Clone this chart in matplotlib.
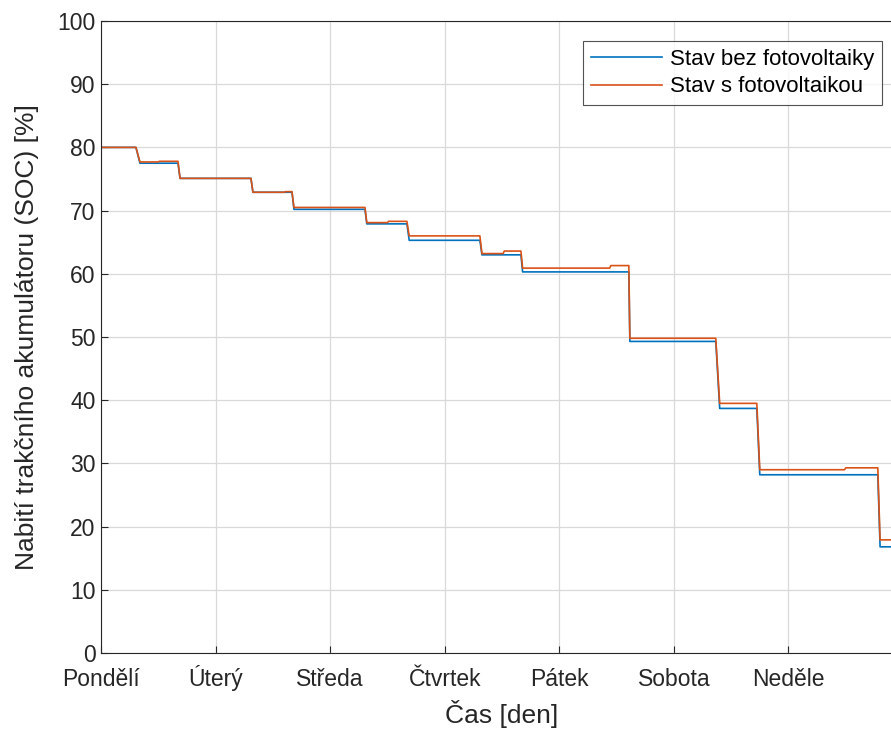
import matplotlib
matplotlib.use("Agg")
import matplotlib.pyplot as plt

plt.rcParams['font.family'] = ['Liberation Sans', 'DejaVu Sans']

# Time breakpoints [day] and SOC [%]
t_bez = [0.0, 0.305, 0.34, 0.672, 0.69, 1.309, 1.326, 1.667, 1.684, 2.304, 2.32,
         2.67, 2.69, 3.307, 3.325, 3.665, 3.68, 4.607, 4.616, 5.366, 5.40,
         5.724, 5.75, 6.78, 6.80, 7.0]
soc_bez = [80.0, 80.0, 77.5, 77.5, 75.1, 75.1, 72.9, 72.9, 70.2, 70.2, 67.9,
           67.9, 65.3, 65.3, 63.0, 63.0, 60.3, 60.3, 49.3, 49.3, 38.7,
           38.7, 28.2, 28.2, 16.8, 16.8]

t_pv = [0.0, 0.305, 0.34, 0.50, 0.51, 0.672, 0.69, 1.309, 1.326, 1.60, 1.61, 1.667, 1.684,
        2.304, 2.32, 2.50, 2.51, 2.67, 2.69, 3.307, 3.325, 3.51, 3.52, 3.665, 3.68,
        4.44, 4.45, 4.607, 4.616, 5.366, 5.40, 5.724, 5.75, 6.49, 6.50, 6.78, 6.80, 7.0]
soc_pv = [80.0, 80.0, 77.7, 77.7, 77.8, 77.8, 75.1, 75.1, 72.9, 72.9, 73.0, 73.0, 70.5,
          70.5, 68.1, 68.1, 68.3, 68.3, 66.0, 66.0, 63.2, 63.2, 63.6, 63.6, 60.9,
          60.9, 61.3, 61.3, 49.8, 49.8, 39.5, 39.5, 29.0, 29.0, 29.3, 29.3, 17.9, 17.9]

day_ticks = [0, 1, 2, 3, 4, 5, 6]
day_labels = ['Pondělí', 'Úterý', 'Středa', 'Čtvrtek', 'Pátek', 'Sobota', 'Neděle']
y_ticks = list(range(0, 101, 10))

fig = plt.figure(figsize=(8.91, 7.31), dpi=100)
ax = fig.add_axes([101/891, 1-653/731, (903-101)/891, (653-21)/731])

ax.plot(t_bez, soc_bez, color='#0072BD', lw=1.2, label='Stav bez fotovoltaiky')
ax.plot(t_pv, soc_pv, color='#D95319', lw=1.2, label='Stav s fotovoltaikou')

ax.set_xlim(0, 7)
ax.set_ylim(0, 100)
ax.set_xticks(day_ticks)
ax.set_xticklabels(day_labels)
ax.set_yticks(y_ticks)
ax.grid(True, color='#d9d9d9', lw=0.9)
ax.set_axisbelow(True)
ax.tick_params(direction='in', length=5, width=0.8, labelsize=16.5, colors='#262626',
               top=False, right=False)
ax.tick_params(axis='y', pad=4)
ax.tick_params(axis='x', pad=24)
for lab in ax.get_xticklabels():
    lab.set_verticalalignment('baseline')
for s in ax.spines.values():
    s.set_color('#262626')
    s.set_linewidth(0.8)

ax.set_xlabel('Čas [den]', fontsize=19, color='#262626', labelpad=6)
ax.set_ylabel('Nabití trakčního akumulátoru (SOC) [%]', fontsize=19, color='#262626', labelpad=13)

leg = ax.legend(loc='upper left', bbox_to_anchor=(583/891, 1-41/731), bbox_transform=fig.transFigure,
                fontsize=16, frameon=True, fancybox=False, edgecolor='#262626',
                handlelength=3.2, borderpad=0.35, labelspacing=0.3, handletextpad=0.35,
                borderaxespad=0)
leg.get_frame().set_linewidth(0.8)

fig.savefig('out.png', dpi=100)
